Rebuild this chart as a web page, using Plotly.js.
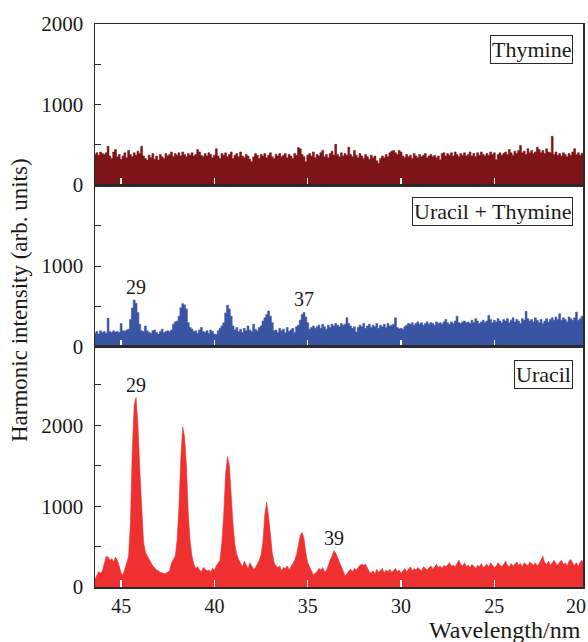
<!DOCTYPE html>
<html>
<head>
<meta charset="utf-8">
<script src="https://cdn.plot.ly/plotly-3.0.1.min.js"></script>
<style>
html,body{margin:0;padding:0;background:#fff;}
#chart{width:588px;height:642px;}
</style>
</head>
<body>
<div id="chart"></div>
<script>
// Sampling grid: 46.4 nm down to 20.0 nm, every 0.1 nm (265 samples)
const WL_START = 46.4;
const WL_STEP = 0.1;
const N_SAMPLES = 265;

const thymine = [
  380,400,370,410,390,380,400,480,360,330,
  410,440,350,380,320,360,400,340,430,380,
  350,400,370,420,390,480,360,330,310,370,
  340,390,320,360,310,380,350,330,390,360,
  380,410,350,390,370,400,360,410,380,350,
  390,370,400,360,380,440,410,370,350,390,
  360,400,380,340,370,450,360,330,390,370,
  400,350,380,410,330,370,390,350,410,360,
  340,380,360,320,290,350,390,370,330,380,
  360,390,340,370,400,350,330,380,360,390,
  350,370,390,340,380,360,330,390,370,465,
  450,380,350,290,370,390,360,410,340,380,
  360,400,430,350,380,340,390,420,370,505,
  380,350,400,360,390,370,470,380,350,430,
  370,340,390,360,330,380,350,320,370,340,
  360,300,270,330,360,340,380,350,400,420,
  430,400,380,430,410,360,340,380,350,370,
  330,390,360,340,380,350,370,390,340,360,
  380,350,370,340,360,315,390,400,360,390,
  370,400,360,410,380,350,390,370,400,360,
  380,410,360,390,350,400,370,410,380,360,
  390,370,410,380,400,315,380,400,370,390,
  410,380,440,400,370,420,390,430,490,400,
  420,380,450,400,430,390,410,470,440,400,
  430,390,450,410,400,605,380,410,370,390,
  360,400,380,350,390,370,410,450,380,400,
  370,390,410,360,380
];

const uracilThymine = [
  170,190,160,200,180,190,170,354,190,180,
  200,185,190,180,290,200,195,210,220,340,
  480,580,540,425,280,200,190,260,200,180,
  170,200,210,180,160,190,220,175,190,200,
  190,210,280,310,320,380,485,535,520,470,
  300,240,220,190,200,170,210,240,190,180,
  200,170,210,190,160,155,200,230,260,300,
  420,515,470,380,260,210,240,190,220,180,
  230,200,260,210,190,280,220,200,240,260,
  320,360,400,445,380,300,200,210,180,230,
  200,220,175,240,190,210,230,180,250,270,
  330,400,425,370,300,220,240,260,230,250,
  270,230,280,250,220,270,240,280,260,290,
  270,250,290,270,280,360,290,260,230,250,
  185,240,270,250,290,230,260,280,240,270,
  250,290,230,270,250,280,240,290,260,270,
  280,360,240,225,230,220,250,270,290,280,
  300,270,290,310,280,300,270,290,310,280,
  300,290,270,310,290,300,280,310,340,300,
  280,310,290,320,380,300,290,310,320,300,
  310,290,330,300,350,320,290,310,330,300,
  320,390,340,300,330,310,350,320,300,340,
  320,350,300,330,360,310,340,320,290,350,
  330,440,350,320,340,310,360,330,300,340,
  290,320,350,310,340,360,330,370,340,410,
  330,360,340,310,370,350,330,360,430,330,
  350,380,340,360,330
];

const uracil = [
  100,150,190,170,200,290,380,370,330,350,
  310,370,330,260,170,150,240,300,380,800,
  1700,2250,2346,2000,1450,900,560,430,380,340,
  300,260,230,210,200,180,175,165,170,180,
  200,300,340,380,580,1000,1600,1983,1850,1500,
  900,560,380,280,230,250,210,190,240,220,
  200,210,190,230,210,260,290,330,560,900,
  1400,1612,1500,1100,760,520,400,340,300,250,
  320,270,230,300,250,220,240,280,330,400,
  560,900,1049,880,620,420,300,260,240,260,
  200,240,230,260,210,250,290,330,400,500,
  640,674,600,420,300,250,200,150,170,190,
  230,210,240,190,200,280,330,380,448,420,
  360,300,250,180,140,160,200,220,190,230,
  210,240,270,280,270,280,230,190,170,200,
  160,220,180,200,230,170,210,190,220,180,
  200,230,190,210,170,200,230,190,220,250,
  200,230,210,240,220,200,250,230,210,240,
  260,220,250,280,240,260,230,270,250,280,
  300,260,270,250,290,330,280,260,300,250,
  270,240,280,260,230,270,250,290,240,260,
  280,250,300,270,240,260,300,270,250,280,
  320,270,250,290,260,280,310,270,290,250,
  300,280,260,310,290,270,300,260,290,330,
  380,300,280,320,270,300,330,290,270,310,
  330,280,300,260,320,340,290,270,300,250,
  310,330,290,270,300
];

const xTickVals = [45, 40, 35, 30, 25];
const xEdgeLabel = "20";
const panelLabels = ["Thymine", "Uracil + Thymine", "Uracil"];
const peakLabels = [
  {text: "29", x: 44.23, y: 737, axis: "y2"},
  {text: "37", x: 35.22, y: 595, axis: "y2"},
  {text: "29", x: 44.23, y: 2498, axis: "y3"},
  {text: "39", x: 33.57, y: 609, axis: "y3"}
];

const wavelength = [];
for (let i = 0; i < N_SAMPLES; i++) wavelength.push(+(WL_START - WL_STEP * i).toFixed(2));

const FONT = "Liberation Serif";
const LINE = "#2a2a2a";
const TXT = "#1a1a1a";

function trace(y, xa, ya, color, shape) {
  return {x: wavelength, y: y, xaxis: xa, yaxis: ya, type: "scatter", mode: "lines",
    line: {color: color, width: 0.6, shape: shape}, fill: "tozeroy", fillcolor: color,
    hoverinfo: "skip"};
}

const data = [
  trace(thymine, "x", "y", "#7C1418", "hvh"),
  trace(uracilThymine, "x2", "y2", "#3A54A4", "hvh"),
  trace(uracil, "x3", "y3", "#EE3130", "linear")
];

const xRange = [46.4, 20.25];
function xa(anchor, labels) {
  return {anchor: anchor, range: xRange, matches: anchor === "y3" ? undefined : "x3",
    tickmode: "array", tickvals: xTickVals, showticklabels: labels,
    ticks: "inside", ticklen: 7, tickwidth: 1.5, tickcolor: "#ffffff",
    showline: true, mirror: true, linecolor: LINE, linewidth: 1.5,
    showgrid: false, zeroline: false,
    tickfont: {family: FONT, size: 20, color: TXT}, layer: "above traces"};
}
function ya(domain, range, vals, minorVals) {
  return {domain: domain, range: range, tickmode: "array", tickvals: vals,
    ticks: "inside", ticklen: 6, tickwidth: 1, tickcolor: LINE,
    minor: {tickmode: "array", tickvals: minorVals, ticks: "inside", ticklen: 6, tickwidth: 1, tickcolor: LINE},
    showline: true, mirror: true, linecolor: LINE, linewidth: 1.5,
    showgrid: false, zeroline: false, ticklabelstandoff: 6,
    tickfont: {family: FONT, size: 21, color: TXT}};
}

const annotations = [];
const panelAxes = ["y", "y2", "y3"];
const panelShift = [-11, -12, -13];
panelLabels.forEach((t, i) => {
  annotations.push({text: t, xref: "paper", x: 1, xanchor: "right", xshift: -10,
    yref: panelAxes[i] + " domain", y: 1, yanchor: "top", yshift: panelShift[i],
    showarrow: false, bordercolor: LINE, borderwidth: 1, borderpad: 1,
    bgcolor: "#ffffff", font: {family: FONT, size: 22, color: TXT}});
});
peakLabels.forEach(p => {
  annotations.push({text: p.text, xref: p.axis === "y2" ? "x2" : "x3", x: p.x, yref: p.axis, y: p.y,
    showarrow: false, xanchor: "center", yanchor: "middle",
    font: {family: FONT, size: 20, color: TXT}});
});
annotations.push({text: xEdgeLabel, xref: "paper", x: 1, xanchor: "right", xshift: 5,
  yref: "paper", y: -0.0337, yanchor: "middle", showarrow: false,
  font: {family: FONT, size: 20, color: TXT}});
annotations.push({text: "Wavelength/nm", xref: "paper", x: 1, xanchor: "right", xshift: 0,
  yref: "paper", y: -0.0764, yanchor: "middle", showarrow: false,
  font: {family: FONT, size: 24, color: TXT}});
annotations.push({text: "Harmonic intensity (arb. units)", xref: "paper", x: -0.1536, xanchor: "center",
  yref: "paper", y: 0.5098, yanchor: "middle", textangle: -90, showarrow: false,
  font: {family: FONT, size: 23, color: TXT}});

const layout = {
  width: 588, height: 642,
  margin: {l: 95, r: 5, t: 24, b: 55, pad: 0},
  paper_bgcolor: "#ffffff", plot_bgcolor: "#ffffff",
  showlegend: false,
  xaxis: xa("y", false),
  xaxis2: xa("y2", false),
  xaxis3: xa("y3", true),
  yaxis: ya([0.714, 1], [0, 2000], [0, 1000, 2000], [500, 1500]),
  yaxis2: ya([0.4263, 0.714], [0, 2000], [0, 1000], [500, 1500]),
  yaxis3: ya([0, 0.4263], [0, 2970], [0, 1000, 2000], [500, 1500, 2500]),
  annotations: annotations
};

Plotly.newPlot("chart", data, layout, {staticPlot: true, displayModeBar: false});
</script>
</body>
</html>
